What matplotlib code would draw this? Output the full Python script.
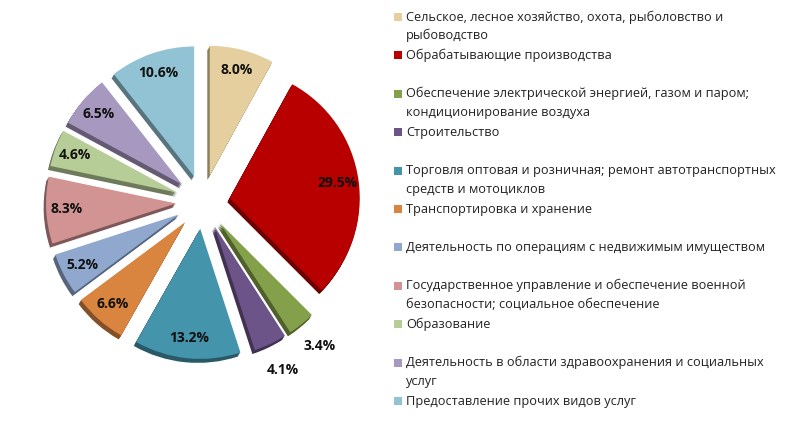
import numpy as np
import matplotlib.pyplot as plt
import matplotlib.colors as mcolors
from matplotlib.patches import Wedge, Rectangle

#-------------------------------------------------------------------------------
# Data
#-------------------------------------------------------------------------------
labels = [
    'Сельское, лесное хозяйство, охота, рыболовство и\nрыбоводство',
    'Обрабатывающие производства',
    'Обеспечение электрической энергией, газом и паром;\nкондиционирование воздуха',
    'Строительство',
    'Торговля оптовая и розничная; ремонт автотранспортных\nсредств и мотоциклов',
    'Транспортировка и хранение',
    'Деятельность по операциям с недвижимым имуществом',
    'Государственное управление и обеспечение военной\nбезопасности; социальное обеспечение',
    'Образование',
    'Деятельность в области здравоохранения и социальных\nуслуг',
    'Предоставление прочих видов услуг',
]
values = [8.0, 29.5, 3.4, 4.1, 13.2, 6.6, 5.2, 8.3, 4.6, 6.5, 10.6]
colors = ['#E6CF9E', '#B80000', '#84A04A', '#6C5489', '#4494AB', '#D9843F',
          '#90A8CE', '#D29393', '#B6CD97', '#A798C0', '#92C3D4']
outside = [False, False, True, True, False, False, False, False, False, False, False]

#-------------------------------------------------------------------------------
# Figure (axes in pixel units)
#-------------------------------------------------------------------------------
W, H = 791, 425
fig = plt.figure(figsize=(W/100, H/100), dpi=100)
ax = fig.add_axes([0, 0, 1, 1])

cx, cy = 203, H - 202
rad    = 130
expl   = 27

wedges, _ = ax.pie(values, colors=colors, startangle=90, counterclock=False,
                   explode=[expl]*len(values), radius=rad, center=(cx, cy),
                   wedgeprops=dict(linewidth=0))

# fake 3D extrusion: darker copy shifted down-left
for w, c in zip(wedges, colors):
    dark = np.array(mcolors.to_rgb(c)) * 0.6
    for k in range(1, 5):
        sh = Wedge((w.center[0] - 0.6*k, w.center[1] - 1.0*k), w.r, w.theta1, w.theta2,
                   facecolor=dark, edgecolor='none', zorder=0.5)
        ax.add_patch(sh)

# percentage labels
for w, v, out in zip(wedges, values, outside):
    mid = np.deg2rad(0.5*(w.theta1 + w.theta2))
    d   = 1.22 if out else 0.84
    x   = w.center[0] + d*w.r*np.cos(mid)
    y   = w.center[1] + d*w.r*np.sin(mid)
    ax.text(x, y, f'{v:.1f}%', ha='center', va='center', fontsize=10,
            fontweight='bold', family='Open Sans', color='#111111', zorder=5)

# legend
y0, step, lstep = 17, 38.4, 18.5
for i, (lab, c) in enumerate(zip(labels, colors)):
    ye = y0 + i*step
    ax.add_patch(Rectangle((394, H - ye - 4), 8, 8, facecolor=c, edgecolor='none'))
    for j, line in enumerate(lab.split('\n')):
        ax.text(406, H - ye - j*lstep, line, ha='left', va='center',
                fontsize=9.2, family='Open Sans', color='#222222')

ax.set_xlim(0, W)
ax.set_ylim(0, H)
ax.set_aspect('auto')
ax.axis('off')

plt.savefig('out.png', dpi=100)
plt.close()
